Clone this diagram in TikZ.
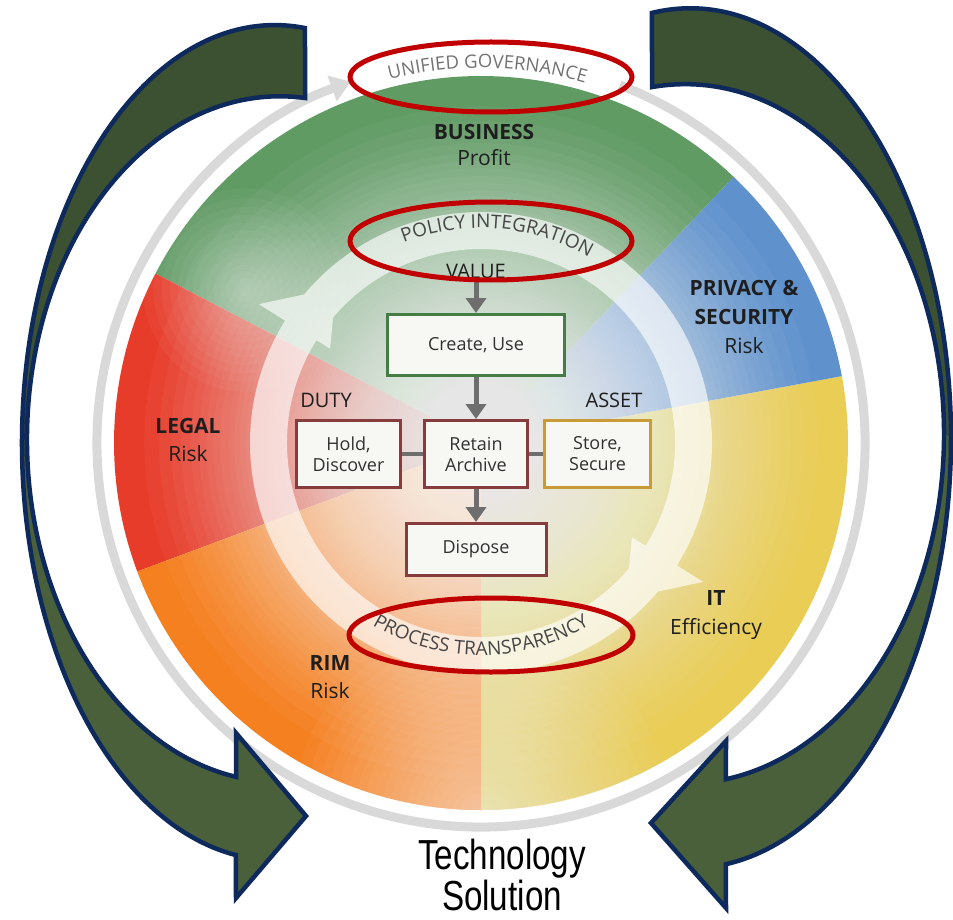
\documentclass[tikz,border=0pt]{standalone}
\usepackage{fontspec}
\setmainfont{Open Sans}
\newfontfamily\narrowfont[FakeStretch=0.79]{Liberation Sans}
\usetikzlibrary{arrows.meta,decorations.text}
\definecolor{secgreen}{RGB}{96,155,100}
\definecolor{secblue}{RGB}{95,145,205}
\definecolor{secyellow}{RGB}{233,205,85}
\definecolor{secorange}{RGB}{245,128,32}
\definecolor{secred}{RGB}{232,60,42}
\definecolor{labtext}{RGB}{30,30,30}
\definecolor{boxtext}{RGB}{50,50,50}
\definecolor{curvetext}{RGB}{70,70,70}
\definecolor{govgray}{RGB}{115,115,115}
\definecolor{boxfill}{RGB}{247,247,243}
\definecolor{boxgreen}{RGB}{70,125,70}
\definecolor{boxred}{RGB}{135,60,62}
\definecolor{boxgold}{RGB}{200,155,55}
\definecolor{flowgray}{RGB}{110,110,110}
\definecolor{ringgray}{RGB}{217,217,217}
\definecolor{markred}{RGB}{192,0,0}
\definecolor{arrdark}{RGB}{60,80,50}
\definecolor{arrlight}{RGB}{73,96,58}
\definecolor{arrnavy}{RGB}{14,42,92}
\newcommand\govfont{\fontsize{18.5}{20}\selectfont\color{govgray}}
\newcommand\ringfont{\fontsize{19}{20}\selectfont\color{curvetext}}
\begin{document}
\begin{tikzpicture}[x=1pt,y=1pt,
  lab/.style={align=center, text=labtext, anchor=north, inner sep=0pt},
  tag/.style={text=labtext, inner sep=0pt, font=\fontsize{20}{24}\selectfont},
  boxn/.style={draw, line width=3pt, fill=boxfill, inner sep=0pt, align=center,
    font=\fontsize{18}{21}\selectfont, text=boxtext},
  flow/.style={draw=flowgray, line width=5pt, -{Triangle[length=15pt,width=20pt]}},
  link/.style={draw=flowgray, line width=4pt},
  redring/.style={draw=markred, line width=5pt},
  darkpart/.style={fill=arrdark},
  lightpart/.style={fill=arrlight},
  arrline/.style={draw=arrnavy, line width=4.5pt},
  whitering/.style={fill=white},
  haze/.style={fill=white, opacity=0.04}
]
\useasboundingbox (0,0) rectangle (953,-920);
\fill[white] (0,0) rectangle (953,-920);
\coordinate (C) at (481,-443);

% sectors
\fill[secyellow] (C) -- ([shift={(C)}]-90:367pt) arc[start angle=-90, end angle=10.5, radius=367pt] -- cycle;
\fill[secblue] (C) -- ([shift={(C)}]10.5:367pt) arc[start angle=10.5, end angle=46.5, radius=367pt] -- cycle;
\fill[secgreen] (C) -- ([shift={(C)}]46.5:367pt) arc[start angle=46.5, end angle=152.5, radius=367pt] -- cycle;
\fill[secred] (C) -- ([shift={(C)}]152.5:367pt) arc[start angle=152.5, end angle=200.5, radius=367pt] -- cycle;
\fill[secorange] (C) -- ([shift={(C)}]200.5:367pt) arc[start angle=200.5, end angle=270, radius=367pt] -- cycle;

% whitening toward the centre, the bottom and the upper left
\begin{scope}
  \clip (C) circle[radius=367pt];
  \foreach \k in {1,...,78} {
    \fill[haze] (C) circle[radius={367pt*(1-(\k/79)^0.57)}];
  }
  \foreach \k in {1,...,22} {
    \fill[haze] (481,-815) circle[radius={205pt*(1-(\k/23)^0.8)}];
  }
  \foreach \k in {1,...,14} {
    \fill[haze] (245,-290) circle[radius={115pt*(1-(\k/15)^0.8)}];
  }
\end{scope}

% inner cycle ring
\begin{scope}[transparency group, opacity=0.65]
  \fill[whitering] ([shift={(C)}]325:231pt) arc[start angle=325, end angle=148, radius=231pt]
    -- ([shift={(C)}]148:262pt) -- ([shift={(C)}]133:212.5pt) -- ([shift={(C)}]148:178pt)
    -- ([shift={(C)}]148:194pt) arc[start angle=148, end angle=325, radius=194pt] -- cycle;
  \fill[whitering] ([shift={(C)}]145:231pt) arc[start angle=145, end angle=-32, radius=231pt]
    -- ([shift={(C)}]-32:262pt) -- ([shift={(C)}]-47:212.5pt) -- ([shift={(C)}]-32:178pt)
    -- ([shift={(C)}]-32:194pt) arc[start angle=-32, end angle=145, radius=194pt] -- cycle;
\end{scope}

% outer grey ring
\draw[ringgray, line width=9pt, -{Triangle[length=20pt,width=26pt]}]
  ([shift={(C)}]68.8:384pt) arc[start angle=68.8, end angle=-250.2, radius=384pt];

% curved texts
\path[decorate, decoration={text along path, text align=center, text={|\govfont|UNIFIED GOVERNANCE}}]
  ([shift={(C)}]115:375pt) arc[start angle=115, end angle=63, radius=375pt];
\path[decorate, decoration={text along path, text align=center, text={|\ringfont|POLICY INTEGRATION}}]
  ([shift={(C)}]125:215pt) arc[start angle=125, end angle=46, radius=215pt];
\path[decorate, decoration={text along path, text align=center, text={|\ringfont|PROCESS TRANSPARENCY}}]
  ([shift={(C)}]230:212pt) arc[start angle=230, end angle=310, radius=212pt];

% sector labels
\node[lab, font=\fontsize{21}{26}\selectfont] (business) at (484,-124) {\textbf{BUSINESS}\\Profit};
\node[lab, font=\fontsize{21}{29}\selectfont] (privacy) at (744,-280) {\textbf{PRIVACY \&}\\\textbf{SECURITY}\\Risk};
\node[lab, font=\fontsize{21}{29}\selectfont] (it) at (716,-590) {\textbf{IT}\\Efficiency};
\node[lab, font=\fontsize{21}{28}\selectfont] (legal) at (188,-418) {\textbf{LEGAL}\\Risk};
\node[lab, font=\fontsize{21}{28}\selectfont] (rim) at (330,-655) {\textbf{RIM}\\Risk};

% lifecycle boxes
\node[tag] (value) at (476,-271) {VALUE};
\node[tag] (duty) at (326,-400) {DUTY};
\node[tag] (asset) at (614,-400) {ASSET};
\node[boxn, draw=boxgreen, minimum width=177pt, minimum height=61pt] (create) at (476,-345) {Create, Use};
\node[boxn, draw=boxred, minimum width=104pt, minimum height=67pt] (hold) at (348.5,-454) {Hold,\\Discover};
\node[boxn, draw=boxred, minimum width=103pt, minimum height=67pt] (retain) at (476,-454) {Retain\\Archive};
\node[boxn, draw=boxgold, minimum width=106pt, minimum height=67pt] (store) at (597.5,-454) {Store,\\Secure};
\node[boxn, draw=boxred, minimum width=140pt, minimum height=52pt] (dispose) at (476,-549.5) {Dispose};
\draw[flow] (value) -- (create);
\draw[flow] (create) -- (retain);
\draw[flow] (retain) -- (dispose);
\draw[link] (hold) -- (retain);
\draw[link] (retain) -- (store);

% red highlight ellipses
\draw[redring] (491,-77) ellipse[x radius=141pt, y radius=35pt];
\draw[redring] (491,-241) ellipse[x radius=141pt, y radius=39pt];
\draw[redring] (491,-635) ellipse[x radius=142pt, y radius=37pt];

% left curved block arrow
\fill[darkpart] ([shift={(275,-442.6)}]83.2:253pt and 417.5pt)
  arc[start angle=83.2, end angle=180, x radius=253pt, y radius=417.5pt]
  -- ([shift={(280,-439.2)}]180:253pt and 342.9pt)
  arc[start angle=180, end angle=84.3, x radius=253pt, y radius=342.9pt] -- cycle;
\fill[lightpart] ([shift={(275,-442.6)}]180:253pt and 417.5pt)
  arc[start angle=180, end angle=261.1, x radius=253pt, y radius=417.5pt]
  -- (236,-898) -- (306,-816) -- (236,-733)
  -- ([shift={(280,-439.2)}]260:253pt and 342.9pt)
  arc[start angle=260, end angle=180, x radius=253pt, y radius=342.9pt] -- cycle;
\draw[arrline] ([shift={(275,-442.6)}]83.2:253pt and 417.5pt)
  arc[start angle=83.2, end angle=261.1, x radius=253pt, y radius=417.5pt]
  -- (236,-898) -- (306,-816) -- (236,-733)
  -- ([shift={(280,-439.2)}]260:253pt and 342.9pt)
  arc[start angle=260, end angle=84.3, x radius=253pt, y radius=342.9pt] -- cycle;

% right curved block arrow
\fill[darkpart] ([shift={(690,-438.3)}]98.4:261pt and 430pt)
  arc[start angle=98.4, end angle=0, x radius=261pt, y radius=430pt]
  -- ([shift={(685,-433.9)}]0:259pt and 349.7pt)
  arc[start angle=0, end angle=97.3, x radius=259pt, y radius=349.7pt] -- cycle;
\fill[lightpart] ([shift={(690,-438.3)}]0:261pt and 430pt)
  arc[start angle=0, end angle=-82.1, x radius=261pt, y radius=430pt]
  -- (726,-908) -- (651,-823) -- (726,-741)
  -- ([shift={(685,-433.9)}]-80.9:259pt and 349.7pt)
  arc[start angle=-80.9, end angle=0, x radius=259pt, y radius=349.7pt] -- cycle;
\draw[arrline] ([shift={(690,-438.3)}]98.4:261pt and 430pt)
  arc[start angle=98.4, end angle=-82.1, x radius=261pt, y radius=430pt]
  -- (726,-908) -- (651,-823) -- (726,-741)
  -- ([shift={(685,-433.9)}]-80.9:259pt and 349.7pt)
  arc[start angle=-80.9, end angle=97.3, x radius=259pt, y radius=349.7pt] -- cycle;

% caption
\node[align=center, anchor=south, inner sep=0pt, text=black,
  font=\narrowfont\fontsize{42}{41}\selectfont] (tech) at (502,-911) {Technology\\Solution};
\end{tikzpicture}
\end{document}
